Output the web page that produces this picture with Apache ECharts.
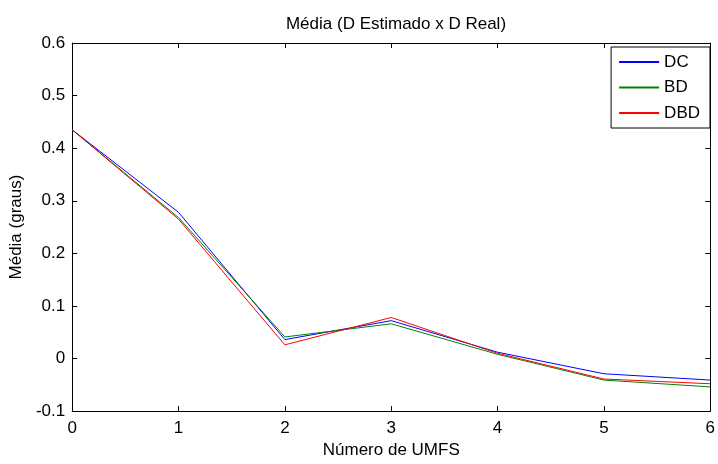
<!DOCTYPE html>
<html>
<head>
<meta charset="utf-8">
<title>Média (D Estimado x D Real)</title>
<script src="https://cdn.jsdelivr.net/npm/echarts@6/dist/echarts.min.js"></script>
<style>
  html, body { margin: 0; padding: 0; background: #fff; }
  #chart { width: 718px; height: 464px; }
</style>
</head>
<body>
<div id="chart"></div>
<script>
// numero de UMFS
var umfs = [0, 1, 2, 3, 4, 5, 6];
// media (graus)
var dc  = [0.435, 0.278, 0.036, 0.072, 0.012, -0.029, -0.041];
var bd  = [0.435, 0.268, 0.041, 0.066, 0.008, -0.041, -0.054];
var dbd = [0.435, 0.265, 0.026, 0.078, 0.010, -0.039, -0.048];

var font = 'Liberation Sans, Arial, sans-serif';
var fs = 17;

function pares(ys) {
    return umfs.map(function (x, i) { return [x, ys[i]]; });
}

function eixo(extra) {
    var base = {
        axisLine: { onZero: false, lineStyle: { color: '#000', width: 1 } },
        axisTick: { inside: true, length: 5, lineStyle: { color: '#000' } },
        splitLine: { show: false },
        axisLabel: { color: '#000', fontFamily: font, fontSize: fs }
    };
    for (var k in extra) base[k] = extra[k];
    return base;
}

var chart = echarts.init(document.getElementById('chart'), null, { renderer: 'canvas' });

chart.setOption({
    animation: false,
    title: {
        text: 'Média (D Estimado x D Real)',
        left: 391, top: 11, textAlign: 'center',
        textStyle: { color: '#000', fontFamily: font, fontSize: fs, fontWeight: 'normal' }
    },
    legend: {
        data: ['DC', 'BD', 'DBD'],
        orient: 'vertical',
        right: 8, top: 47,
        icon: 'rect',
        backgroundColor: '#fff',
        borderColor: '#000', borderWidth: 1, borderRadius: 0,
        padding: [6, 10, 6, 8],
        itemWidth: 40, itemHeight: 2, itemGap: 7.5,
        textStyle: { color: '#000', fontFamily: font, fontSize: 17, lineHeight: 18 }
    },
    grid: { left: 71, right: 7, top: 43, bottom: 48 },
    xAxis: [
        eixo({
            type: 'value', min: 0, max: 6, interval: 1,
            name: 'Número de UMFS', nameLocation: 'middle', nameGap: 29,
            nameTextStyle: { color: '#000', fontFamily: font, fontSize: fs },
            axisLabel: { color: '#000', fontFamily: font, fontSize: fs, margin: 9 }
        }),
        eixo({
            type: 'value', min: 0, max: 6, interval: 1, position: 'top',
            axisLabel: { show: false }
        })
    ],
    yAxis: [
        eixo({
            type: 'value', min: -0.1, max: 0.6, interval: 0.1,
            name: 'Média (graus)', nameLocation: 'middle', nameGap: 44,
            nameTextStyle: { color: '#000', fontFamily: font, fontSize: fs },
            axisLabel: { color: '#000', fontFamily: font, fontSize: fs, margin: 7 }
        }),
        eixo({
            type: 'value', min: -0.1, max: 0.6, interval: 0.1, position: 'right',
            axisLabel: { show: false }
        })
    ],
    series: [
        { name: 'DC', type: 'line', data: pares(dc), symbol: 'none',
          color: '#0000ff', lineStyle: { width: 1 } },
        { name: 'BD', type: 'line', data: pares(bd), symbol: 'none',
          color: '#008000', lineStyle: { width: 1 } },
        { name: 'DBD', type: 'line', data: pares(dbd), symbol: 'none',
          color: '#ff0000', lineStyle: { width: 1 } }
    ]
});
</script>
</body>
</html>
